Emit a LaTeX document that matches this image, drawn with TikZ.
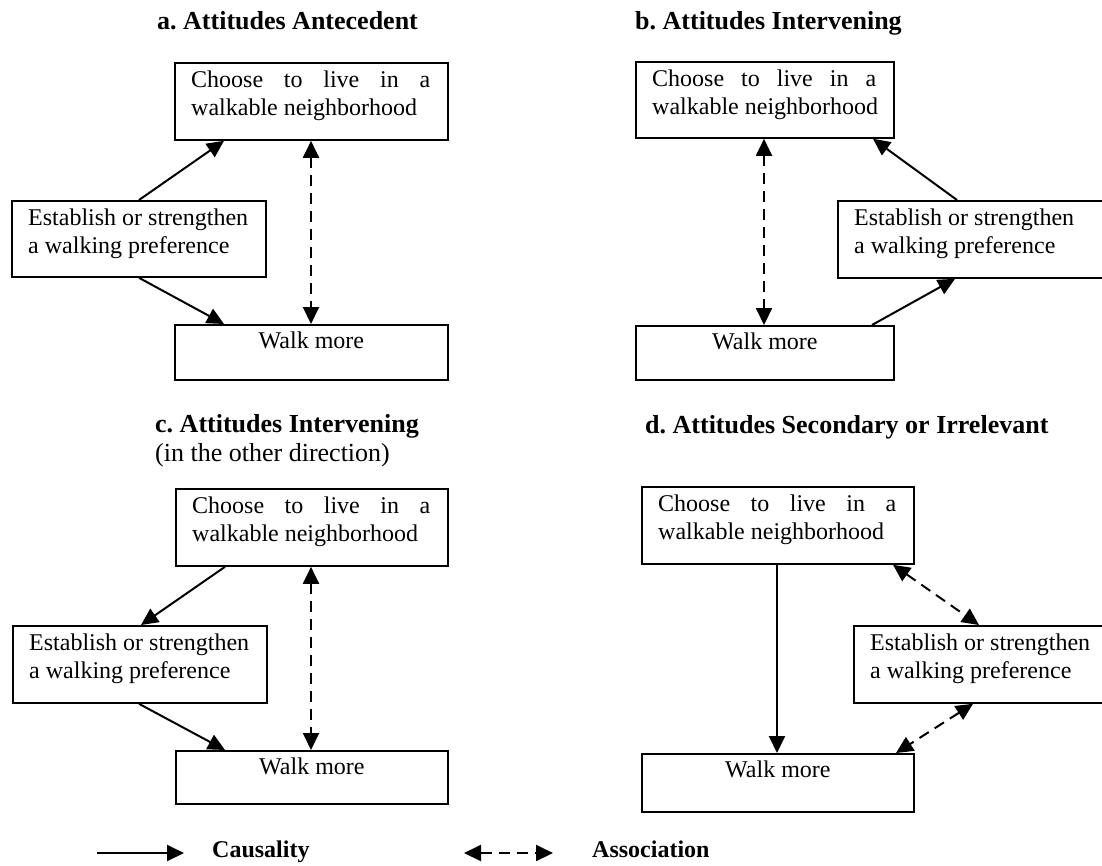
\documentclass[tikz,border=0pt]{standalone}
\usepackage{fontspec}
\setmainfont{Liberation Serif}
\usetikzlibrary{arrows.meta,calc}
\frenchspacing

\tikzset{
  boxst/.style={draw, line width=1.8pt, inner sep=0pt, anchor=north west},
  txt/.style={inner sep=0pt, font=\fontsize{24}{28}\selectfont},
  ttl/.style={inner sep=0pt, anchor=base west, font=\fontsize{26}{30}\selectfont\bfseries},
  sub/.style={inner sep=0pt, anchor=base west, font=\fontsize{26}{30}\selectfont},
  lgd/.style={inner sep=0pt, anchor=base west, font=\fontsize{24}{28}\selectfont\bfseries},
  cause/.style={line width=2pt, -{Triangle[length=17pt,width=16pt]}},
  assoc/.style={line width=2pt, dash pattern=on 11pt off 7pt,
    {Triangle[length=17pt,width=16pt]}-{Triangle[length=17pt,width=16pt]}},
}

% #1 name, #2 x, #3 y, #4 width, #5 height
\newcommand\choosebox[5]{%
  \node[boxst, minimum width=#4pt, minimum height=#5pt] (#1) at (#2,#3) {};
  \node[txt, anchor=base west] (#1-t) at ([xshift=17pt,yshift=-25pt]#1.north west)
    {\parbox[t]{\dimexpr#4pt-34pt\relax}{%
      \hbox to \linewidth{Choose\hfill to\hfill live\hfill in\hfill a}%
      \hbox{walkable neighborhood}}};
}
\newcommand\prefbox[5]{%
  \node[boxst, minimum width=#4pt, minimum height=#5pt] (#1) at (#2,#3) {};
  \node[txt, anchor=base west] (#1-t) at ([xshift=17pt,yshift=-25pt]#1.north west)
    {\parbox[t]{240pt}{\hbox{Establish or strengthen}\hbox{a walking preference}}};
}
\newcommand\walkbox[5]{%
  \node[boxst, minimum width=#4pt, minimum height=#5pt] (#1) at (#2,#3) {};
  \node[txt, anchor=base] (#1-t) at ([yshift=-24pt]#1.north) {Walk more};
}

\begin{document}
\begin{tikzpicture}[x=1pt,y=-1pt]
  \clip (0,0) rectangle (1102,865);

  % panel a
  \node[ttl] (ta) at (157,29) {a. Attitudes Antecedent};
  \choosebox{ca}{174}{62}{273}{77}
  \prefbox{ea}{11}{200}{254}{76}
  \walkbox{wa}{174}{324}{273}{55}
  \draw[cause] ([xshift=128pt]ea.north west) -- ([xshift=50pt]ca.south west);
  \draw[cause] ([xshift=128pt]ea.south west) -- ([xshift=50pt]wa.north west);
  \draw[assoc] ([xshift=137pt]ca.south west) -- ([xshift=137pt]wa.north west);

  % panel b
  \node[ttl] (tb) at (635,29) {b. Attitudes Intervening};
  \choosebox{cb}{635}{61}{258}{76}
  \prefbox{eb}{837}{200}{290}{77}
  \walkbox{wb}{635}{325}{258}{54}
  \draw[cause] ([xshift=120pt]eb.north west) -- ([xshift=238pt]cb.south west);
  \draw[cause] ([xshift=237pt]wb.north west) -- ([xshift=118pt]eb.south west);
  \draw[assoc] ([xshift=129pt]cb.south west) -- ([xshift=129pt]wb.north west);

  % panel c
  \node[ttl] (tc) at (155,432) {c. Attitudes Intervening};
  \node[sub] (tc2) at (155,461) {(in the other direction)};
  \choosebox{cc}{175}{488}{272}{77}
  \prefbox{ec}{12}{625}{254}{77}
  \walkbox{wc}{175}{750}{272}{53}
  \draw[cause] ([xshift=50pt]cc.south west) -- ([xshift=129pt]ec.north west);
  \draw[cause] ([xshift=127pt]ec.south west) -- ([xshift=50pt]wc.north west);
  \draw[assoc] ([xshift=136pt]cc.south west) -- ([xshift=136pt]wc.north west);

  % panel d
  \node[ttl] (td) at (645,433) {d. Attitudes Secondary or Irrelevant};
  \choosebox{cd}{641}{486}{272}{77}
  \prefbox{ed}{853}{625}{290}{77}
  \walkbox{wd}{641}{753}{272}{58}
  \draw[cause] ([xshift=136pt]cd.south west) -- ([xshift=136pt]wd.north west);
  \draw[assoc] ([xshift=252pt]cd.south west) -- ([xshift=126pt]ed.north west);
  \draw[assoc] ([xshift=120pt]ed.south west) -- ([xshift=255pt]wd.north west);

  % legend
  \coordinate (c1) at (97,853);
  \coordinate (c2) at (184,853);
  \draw[cause] (c1) -- (c2);
  \node[lgd] (lc) at (212,857) {Causality};
  \coordinate (a1) at (464,853);
  \coordinate (a2) at (553,853);
  \draw[assoc] (a1) -- (a2);
  \node[lgd] (la) at (592,857) {Association};
\end{tikzpicture}
\end{document}
